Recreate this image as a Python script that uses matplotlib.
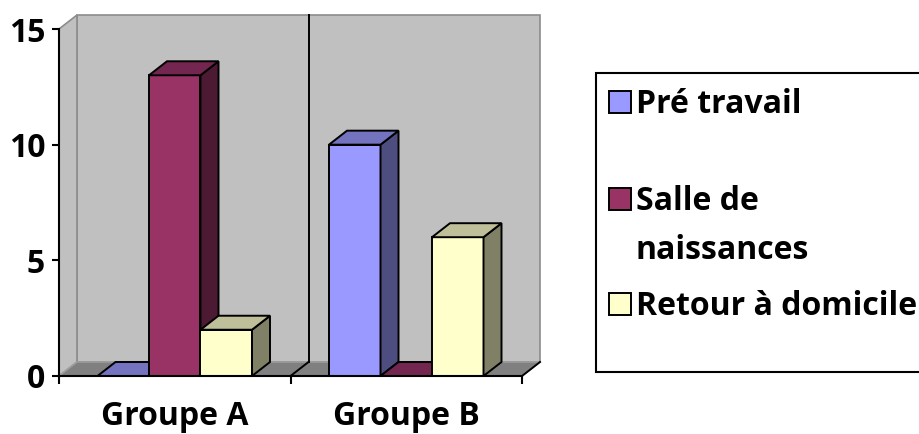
import matplotlib
matplotlib.use("Agg")
import matplotlib.pyplot as plt
from matplotlib.patches import Polygon, Rectangle

# ---- data ----
categories = ["Groupe A", "Groupe B"]
series_names = ["Pré travail", "Salle de\nnaissances", "Retour à domicile"]
pre_travail = [0, 10]
salle_naissances = [13, 0]
retour_domicile = [2, 6]
y_ticks = [0, 5, 10, 15]

# ---- style ----
front_colors = ["#9999FF", "#993366", "#FFFFCC"]
top_colors = ["#7373BF", "#732650", "#BFBF99"]
side_colors = ["#4D4D80", "#4D1A33", "#808066"]
WALL = "#C0C0C0"
FLOOR = "#808080"
EDGE_GRAY = "#8C8C8C"
FONT = "Open Sans"
FS = 23

W, H = 919, 434
fig = plt.figure(figsize=(W / 100, H / 100), dpi=100)
fig.patch.set_facecolor("white")

def fx(px):
    return px / W

def fy(py):
    return 1 - py / H

ax = fig.add_axes([fx(59), fy(376), (522 - 59) / W, (376 - 29) / H])
ax.set_xlim(0, len(categories))
ax.set_ylim(0, 15)
ax.patch.set_alpha(0)

# depth offset (data units)
DX = 18 / 231.5
DY = 14 / (347 / 15)
ncat = len(categories)
ymax = 15

# back wall
ax.add_patch(Polygon([(DX, DY), (ncat + DX, DY), (ncat + DX, ymax + DY), (DX, ymax + DY)],
                     closed=True, facecolor=WALL, edgecolor=EDGE_GRAY, lw=1.2,
                     clip_on=False, zorder=0))
# left side wall
ax.add_patch(Polygon([(0, 0), (DX, DY), (DX, ymax + DY), (0, ymax)],
                     closed=True, facecolor=WALL, edgecolor=EDGE_GRAY, lw=1.2,
                     clip_on=False, zorder=0.5))
# floor
ax.add_patch(Polygon([(0, 0), (ncat, 0), (ncat + DX, DY), (DX, DY)],
                     closed=True, facecolor=FLOOR, edgecolor="#A0A0A0", lw=1.0,
                     clip_on=False, zorder=1))
# category divider lines on back wall and floor diagonals
for c in range(1, ncat):
    ax.plot([c + DX, c + DX], [DY, ymax + DY], color="black", lw=1.4,
            clip_on=False, zorder=1.5)
for c in range(1, ncat + 1):
    ax.plot([c, c + DX], [0, DY], color="black", lw=1.4, clip_on=False, zorder=1.6)

# bars
all_series = [pre_travail, salle_naissances, retour_domicile]
nser = len(all_series)
bw = 51.5 / 231.5
ELW = 1.4
for ci in range(ncat):
    center = ci + 0.5
    for si, vals in enumerate(all_series):
        h = vals[ci]
        x0 = center - nser * bw / 2 + si * bw
        z = 2 + si * 0.1
        if h > 0:
            ax.add_patch(Polygon([(x0, 0), (x0 + bw, 0), (x0 + bw, h), (x0, h)],
                                 closed=True, facecolor=front_colors[si],
                                 edgecolor="black", lw=ELW, clip_on=False,
                                 joinstyle="miter", zorder=z))
            ax.add_patch(Polygon([(x0 + bw, 0), (x0 + bw + DX, DY), (x0 + bw + DX, h + DY),
                                  (x0 + bw, h)],
                                 closed=True, facecolor=side_colors[si],
                                 edgecolor="black", lw=ELW, clip_on=False,
                                 joinstyle="miter", zorder=z))
        ax.add_patch(Polygon([(x0, h), (x0 + bw, h), (x0 + bw + DX, h + DY), (x0 + DX, h + DY)],
                             closed=True, facecolor=top_colors[si],
                             edgecolor="black", lw=ELW, clip_on=False,
                             joinstyle="miter", zorder=z))

# axes
for s in ["top", "right"]:
    ax.spines[s].set_visible(False)
for s in ["left", "bottom"]:
    ax.spines[s].set_linewidth(1.5)
    ax.spines[s].set_zorder(5)
ax.set_yticks(y_ticks)
ax.set_yticklabels([str(t) for t in y_ticks], fontfamily=FONT, fontweight="bold",
                   fontsize=FS)
ax.tick_params(axis="y", direction="out", length=5, width=1.5, pad=5)
ax.set_xticks(range(ncat + 1))
ax.set_xticklabels([])
ax.set_xticks([c + 0.5 for c in range(ncat)], minor=True)
ax.set_xticklabels(categories, minor=True, fontfamily=FONT, fontweight="bold",
                   fontsize=FS)
ax.tick_params(axis="x", which="major", direction="out", length=6, width=1.5)
ax.tick_params(axis="x", which="minor", length=0, pad=17)

# legend (manual, figure coordinates)
fig.patches.append(Rectangle((fx(596), fy(372)), fx(930) - fx(596), fy(73) - fy(372),
                             transform=fig.transFigure, facecolor="white",
                             edgecolor="black", lw=1.5, clip_on=False))
baselines = [113, 210, 315]
for si, name in enumerate(series_names):
    b = baselines[si]
    fig.patches.append(Rectangle((fx(609), fy(b)), fx(631) - fx(609), fy(b - 22) - fy(b),
                                 transform=fig.transFigure, facecolor=front_colors[si],
                                 edgecolor="black", lw=1.4))
    lines = name.split("\n")
    for li, line in enumerate(lines):
        fig.text(fx(636), fy(b + li * 49), line, fontfamily=FONT, fontweight="bold",
                 fontsize=FS, ha="left", va="baseline")

fig.savefig("out.png", dpi=100)
